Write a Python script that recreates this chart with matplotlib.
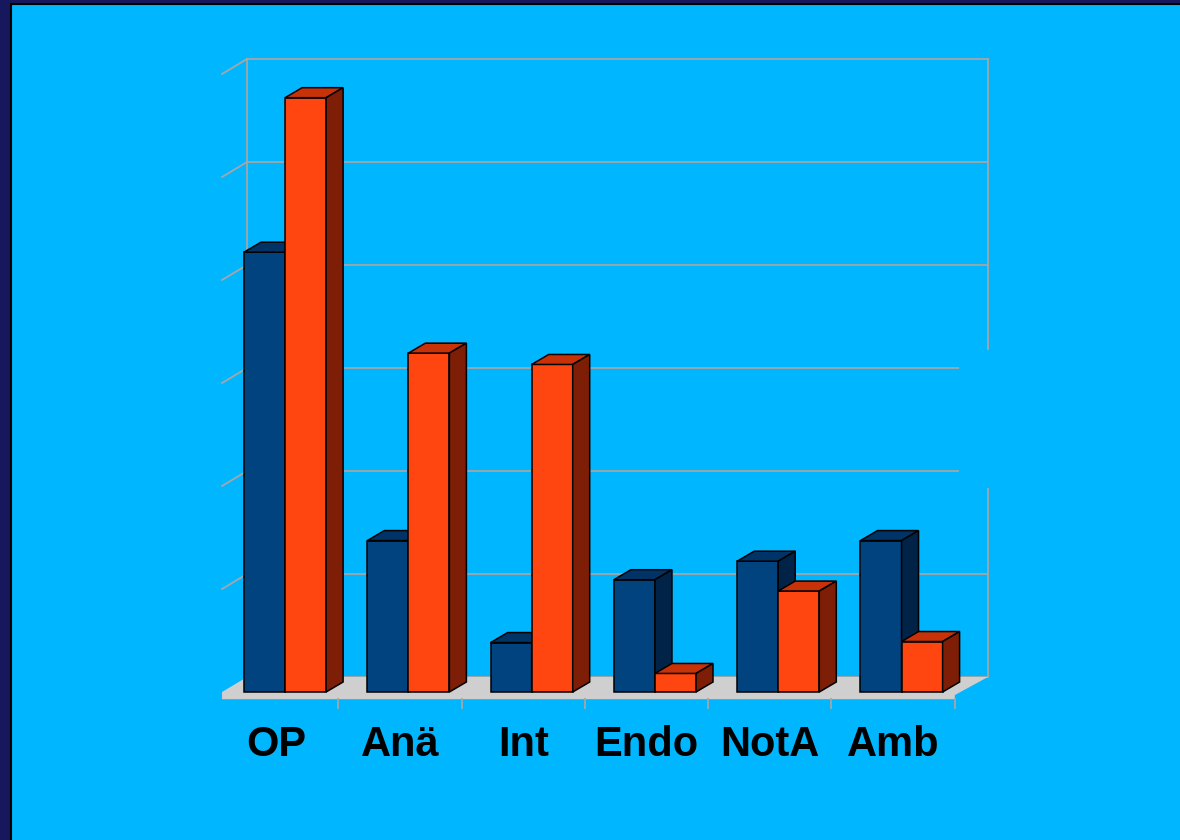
import matplotlib
matplotlib.use("Agg")
import matplotlib.pyplot as plt
from matplotlib.patches import Polygon, Rectangle

# donnees (une graduation = 10)
categories = ["OP", "Anä", "Int", "Endo", "NotA", "Amb"]
serie_bleue = [42.7, 14.7, 4.8, 10.9, 12.7, 14.7]
serie_orange = [57.7, 32.9, 31.8, 1.8, 9.8, 4.9]
graduations = [0, 10, 20, 30, 40, 50, 60]

# couleurs
fond = "#00B6FF"
bord = "#17175E"
grille = "#A6A6A6"
sol = "#CFCFCF"
bleu = ("#00437F", "#003366", "#002347")
orange = ("#FF4510", "#C83208", "#7F1E06")

# echelle : 1 categorie = 123.3 px, 1 unite = 10.3 px
W, H = 1180, 840
px_x, px_y = 123.3, 10.3
x0_px, y0_px = 215, 692

# profondeur du mur et des barres (en unites de donnees)
mur_dx, mur_dy = 25 / px_x, 15 / px_y
bar_dx, bar_dy = 17 / px_x, 10 / px_y
mur_g, mur_d = 0.057, 6.066
larg = 0.333
decal = 0.235

fig = plt.figure(figsize=(W / 100, H / 100), dpi=100, facecolor=bord)
fond_rect = Rectangle((11 / W, -0.05), 1, 1.05 - 4 / H, transform=fig.transFigure,
                      facecolor=fond, edgecolor="black", lw=1.5, zorder=-10)
fig.patches.append(fond_rect)
ax = fig.add_axes([0, 0, 1, 1])
ax.set_zorder(5)
ax.set_facecolor("none")
ax.set_xlim(-x0_px / px_x, (W - x0_px) / px_x)
ax.set_ylim((y0_px - H) / px_y, y0_px / px_y)
ax.axis("off")

# mur du fond + graduations
for g in graduations:
    ax.plot([mur_g + mur_dx, mur_d + mur_dx], [g + mur_dy, g + mur_dy],
            color=grille, lw=1.3, zorder=1)
    if g > 0:
        ax.plot([mur_g, mur_g + mur_dx], [g, g + mur_dy], color=grille, lw=1.3, zorder=1)
ax.plot([mur_g + mur_dx] * 2, [mur_dy, graduations[-1] + mur_dy], color=grille, lw=1.3, zorder=1)
ax.plot([mur_d + mur_dx] * 2, [mur_dy, graduations[-1] + mur_dy], color=grille, lw=1.3, zorder=1)
# zone masquee a droite (comme sur l'original)
ax.add_patch(Rectangle((6.034, 19.8), 0.4, 13.4, facecolor=fond, edgecolor="none", zorder=2))

# sol
ep = 0.7
ax.add_patch(Polygon([(mur_g, -ep), (mur_g, 0), (mur_g + mur_dx, mur_dy),
                      (mur_d + mur_dx, mur_dy), (6.0, -0.3), (6.0, -ep)],
                     closed=True, facecolor=sol, edgecolor="none", zorder=3))
for i in range(1, len(categories) + 1):
    ax.plot([i, i], [-ep, -1.6], color=grille, lw=1.3, zorder=3)


def barre(x, h, couleurs, z):
    x1 = x + larg
    faces = [
        ([(x, 0), (x1, 0), (x1, h), (x, h)], couleurs[0]),
        ([(x, h), (x1, h), (x1 + bar_dx, h + bar_dy), (x + bar_dx, h + bar_dy)], couleurs[1]),
        ([(x1, 0), (x1 + bar_dx, bar_dy), (x1 + bar_dx, h + bar_dy), (x1, h)], couleurs[2]),
    ]
    for pts, c in faces:
        ax.add_patch(Polygon(pts, closed=True, facecolor=c, edgecolor="black",
                             lw=1.1, joinstyle="miter", zorder=z))


z = 5
for i, cat in enumerate(categories):
    barre(i + decal, serie_bleue[i], bleu, z)
    barre(i + decal + larg, serie_orange[i], orange, z + 1)
    z += 2
    ax.text(i + 0.5, -5.1, cat, ha="center", va="center", fontsize=30,
            fontweight="bold", family=["Liberation Sans", "DejaVu Sans"], color="black")

fig.savefig("out.png", dpi=100, facecolor=bord)
